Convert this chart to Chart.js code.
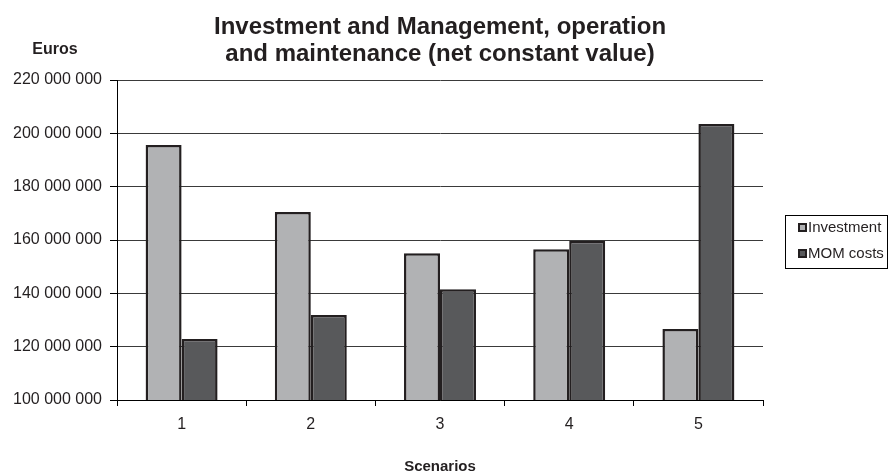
<!DOCTYPE html>
<html>
<head>
<meta charset="utf-8">
<script src="https://cdn.jsdelivr.net/npm/chart.js@4/dist/chart.umd.min.js"></script>
<style>
html,body{margin:0;padding:0;background:#fff;}
#wrap{width:891px;height:473px;position:relative;}
</style>
</head>
<body>
<div id="wrap"><canvas id="c" width="891" height="473"></canvas></div>
<script>
const categories = ['1', '2', '3', '4', '5'];
const investment = [195600000, 170500000, 155000000, 156500000, 126600000];
const momCosts = [122900000, 131900000, 141500000, 159700000, 203500000];
const seriesNames = ['Investment', 'MOM costs'];
const titleLines = ['Investment and Management, operation', 'and maintenance (net constant value)'];
const yAxisTitle = 'Euros';
const xAxisTitle = 'Scenarios';

const FONT = "'Liberation Sans', Arial, sans-serif";
const fmt = v => String(Math.round(v)).replace(/\B(?=(\d{3})+(?!\d))/g, ' ');

const extras = {
  id: 'extras',
  afterDraw(chart) {
    const ctx = chart.ctx;
    ctx.save();
    // y-axis title (horizontal, above axis)
    ctx.fillStyle = '#231f20';
    ctx.font = 'bold 16px ' + FONT;
    ctx.textAlign = 'center';
    ctx.textBaseline = 'middle';
    ctx.fillText(yAxisTitle, 55, 50);
    // legend
    const lx = 785, ly = 215, lw = 102, lh = 53;
    ctx.strokeStyle = '#000';
    ctx.lineWidth = 1;
    ctx.strokeRect(lx + 0.5, ly + 0.5, lw, lh);
    chart.data.datasets.forEach((ds, i) => {
      const cy = ly + 12.5 + i * 26;
      ctx.fillStyle = ds.backgroundColor;
      ctx.fillRect(798, cy - 4.5, 9, 9);
      ctx.strokeStyle = '#231f20';
      ctx.lineWidth = 2;
      ctx.strokeRect(799, cy - 3.5, 7, 7);
      ctx.fillStyle = '#231f20';
      ctx.font = '15px ' + FONT;
      ctx.textAlign = 'left';
      ctx.textBaseline = 'middle';
      ctx.fillText(ds.label, 808, cy);
    });
    ctx.restore();
  }
};

new Chart(document.getElementById('c'), {
  type: 'bar',
  data: {
    labels: categories,
    datasets: [
      {label: seriesNames[0], data: investment, backgroundColor: '#b1b2b4', borderColor: '#231f20', borderWidth: 2.5, borderSkipped: false},
      {label: seriesNames[1], data: momCosts, backgroundColor: '#58595b', borderColor: '#231f20', borderWidth: 2.5, borderSkipped: false}
    ]
  },
  options: {
    responsive: false,
    animation: false,
    layout: {padding: {left: 0, right: 128, top: 0, bottom: 0}},
    datasets: {bar: {categoryPercentage: 0.557, barPercentage: 1.0}},
    plugins: {
      legend: {display: false},
      tooltip: {enabled: false},
      title: {
        display: true,
        fullSize: false,
        text: titleLines,
        color: '#231f20',
        font: {family: FONT, size: 24, weight: 'bold', lineHeight: 1.125},
        padding: {top: 13.5, bottom: 12.5}
      }
    },
    scales: {
      x: {
        afterFit(s) { s.height = 73; },
        grid: {display: true, drawOnChartArea: false, offset: true, tickLength: 6, color: '#000', tickColor: '#000'},
        border: {display: true, color: '#000', width: 1},
        ticks: {color: '#231f20', font: {family: FONT, size: 16}, padding: 9},
        title: {display: true, text: xAxisTitle, color: '#231f20', font: {family: FONT, size: 15, weight: 'bold', lineHeight: 0.8}, padding: {top: 0, bottom: 0}}
      },
      y: {
        min: 100000000,
        max: 220000000,
        afterFit(s) { s.width = 117; },
        ticks: {stepSize: 20000000, color: '#231f20', font: {family: FONT, size: 16}, padding: 8, callback: v => fmt(v)},
        grid: {color: '#3a3a3a', tickColor: '#000', tickLength: 7, lineWidth: 1},
        border: {display: true, color: '#000', width: 1}
      }
    }
  },
  plugins: [extras]
});
</script>
</body>
</html>
